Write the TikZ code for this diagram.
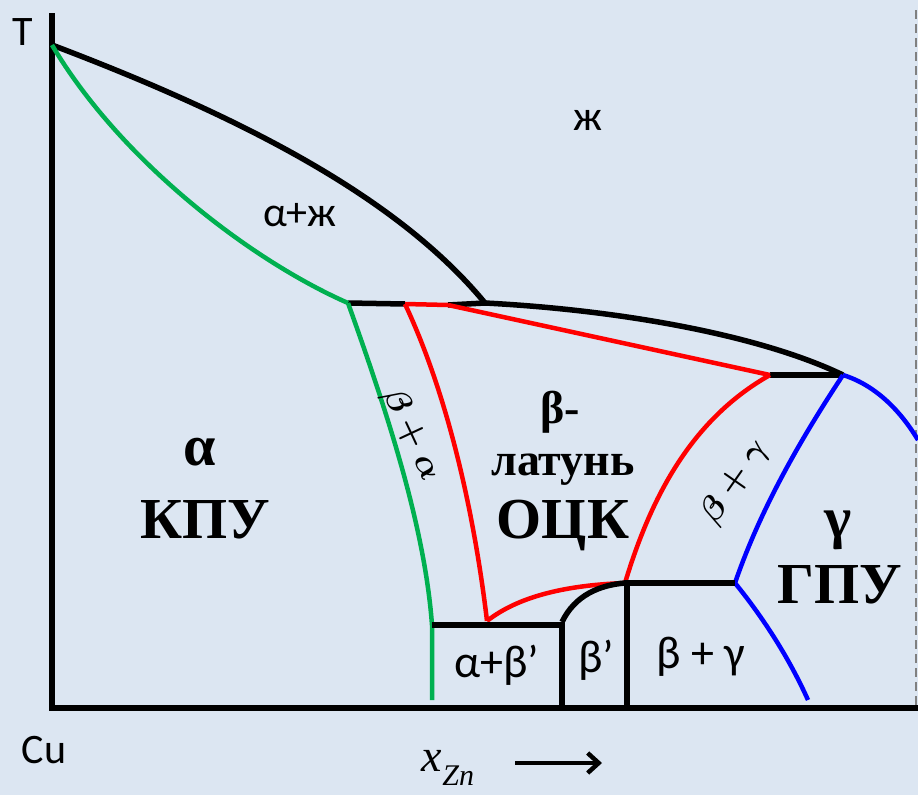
\documentclass[tikz,border=0pt]{standalone}
\usepackage{fontspec}
\setmainfont{Liberation Serif}
\newfontfamily\calibri{Carlito}
\usetikzlibrary{arrows.meta}
\definecolor{fondo}{HTML}{DCE6F2}
\definecolor{verde}{HTML}{00B050}
\definecolor{rojo}{HTML}{FF0000}
\definecolor{azul}{HTML}{0000FF}
\begin{document}
\begin{tikzpicture}[x=1pt, y=-1pt]
  \tikzset{
    black_line/.style={draw=black, line width=5.5pt},
    green_line/.style={draw=verde, line width=4.5pt},
    red_line/.style={draw=rojo, line width=4.5pt},
    blue_line/.style={draw=azul, line width=4.5pt},
    sans_label/.style={font=\calibri\fontsize{42}{44}\selectfont, inner sep=0pt},
    bold_label/.style={font=\bfseries\fontsize{58}{60}\selectfont, inner sep=0pt},
    math_label/.style={inner sep=0pt, scale=3.4, font=\boldmath}
  }

  % Fondo
  \fill[fondo] (0,0) rectangle (918,795);
  \useasboundingbox (0,0) rectangle (918,795);
  \draw[gray, line width=1.5pt, dash pattern=on 9pt off 5pt] (916,10) -- (916,708);

  % Ejes
  \coordinate (origin) at (52,708);
  \coordinate (y_top) at (52,13);
  \coordinate (x_end) at (918,708);
  \draw[black_line] (y_top) -- (origin) -- (x_end);

  % Puntos del diagrama
  \coordinate (melt) at (52,45);
  \coordinate (peri) at (348,303);
  \coordinate (red_a) at (405,304);
  \coordinate (red_b) at (448,305);
  \coordinate (liq) at (485,303);
  \coordinate (gam_a) at (770,375);
  \coordinate (gam_b) at (843,375);
  \coordinate (alpha_low) at (432,625);
  \coordinate (alpha_end) at (432,700);
  \coordinate (beta_low) at (487,621);
  \coordinate (order_a) at (562,625);
  \coordinate (order_top) at (562,622);
  \coordinate (eut) at (625,583);
  \coordinate (order_b) at (627,583);
  \coordinate (gam_low) at (735,583);
  \coordinate (gam_end) at (808,700);
  \coordinate (gam_right) at (918,440);

  % Liquidus (negro)
  \draw[black_line] (melt) .. controls (250,120) and (400,200) .. (liq);
  \draw[black_line] (liq) .. controls (620,310) and (760,335) .. (gam_b);
  \draw[black_line] (peri) -- (red_a);
  \draw[black_line] (red_b) -- (liq);
  \draw[black_line] (gam_a) -- (gam_b);

  % Solidus y solvus de alfa (verde)
  \draw[green_line] (melt) .. controls (120,160) and (250,260) .. (peri);
  \draw[green_line] (peri) .. controls (390,420) and (425,530) .. (alpha_low) -- (alpha_end);

  % Fase beta (rojo)
  \draw[red_line] (red_a) -- (red_b);
  \draw[red_line] (red_a) .. controls (450,400) and (475,520) .. (beta_low);
  \draw[red_line] (beta_low) .. controls (520,595) and (570,585) .. (eut);
  \draw[red_line] (red_b) -- (gam_a);
  \draw[red_line] (gam_a) .. controls (690,420) and (650,500) .. (eut);

  % Fase gamma (azul)
  \draw[blue_line] (gam_b) .. controls (800,440) and (760,510) .. (gam_low);
  \draw[blue_line] (gam_low) .. controls (765,620) and (790,660) .. (gam_end);
  \draw[blue_line] (gam_b) .. controls (875,385) and (900,410) .. (gam_right);

  % Zona ordenada beta'
  \draw[black_line] (alpha_low) -- (order_a) -- (order_a |- origin);
  \draw[black_line] (order_top) .. controls (575,595) and (600,585) .. (eut);
  \draw[black_line] (order_b |- origin) -- (order_b) -- (gam_low);

  % Etiquetas de los ejes
  \node[sans_label] (t_label) at (23,32) {T};
  \node[sans_label] (cu_label) at (44,750) {Cu};
  \node[inner sep=0pt, font=\itshape\fontsize{46}{46}\selectfont] (x_label) at (448,768)
    {x\raisebox{-0.3em}{\fontsize{30}{30}\selectfont Zn}};
  \coordinate (arr_a) at (515,763);
  \coordinate (arr_b) at (602,763);
  \draw[line width=4.5pt, -{Straight Barb[length=11pt, width=20pt]}] (arr_a) -- (arr_b);

  % Etiquetas de las fases
  \node[sans_label] (liquid) at (588,120) {ж};
  \node[sans_label] (alpha_liquid) at (300,215) {α+ж};
  \node[bold_label] (alpha) at (200,452) {α};
  \node[bold_label] (alpha_kpu) at (205,520) {КПУ};
  \node[bold_label, font=\bfseries\fontsize{46}{48}\selectfont] (beta) at (560,412) {β-};
  \node[bold_label, font=\bfseries\fontsize{46}{48}\selectfont] (beta_name) at (563,470) {латунь};
  \node[bold_label] (beta_ock) at (563,525) {ОЦК};
  \node[bold_label] (gamma) at (838,530) {γ};
  \node[bold_label] (gamma_gpu) at (840,585) {ГПУ};
  \node[math_label, rotate=-65] (beta_alpha) at (412,435) {$\beta+\alpha$};
  \node[math_label, rotate=55] (beta_gamma) at (735,482) {$\beta+\gamma$};
  \node[sans_label, font=\calibri\fontsize{46}{48}\selectfont] (alpha_beta_p) at (497,665) {α+β’};
  \node[sans_label, font=\calibri\fontsize{46}{48}\selectfont] (beta_p) at (596,660) {β’};
  \node[sans_label, font=\calibri\fontsize{46}{48}\selectfont] (beta_gamma_low) at (701,657) {β + γ};
\end{tikzpicture}
\end{document}
